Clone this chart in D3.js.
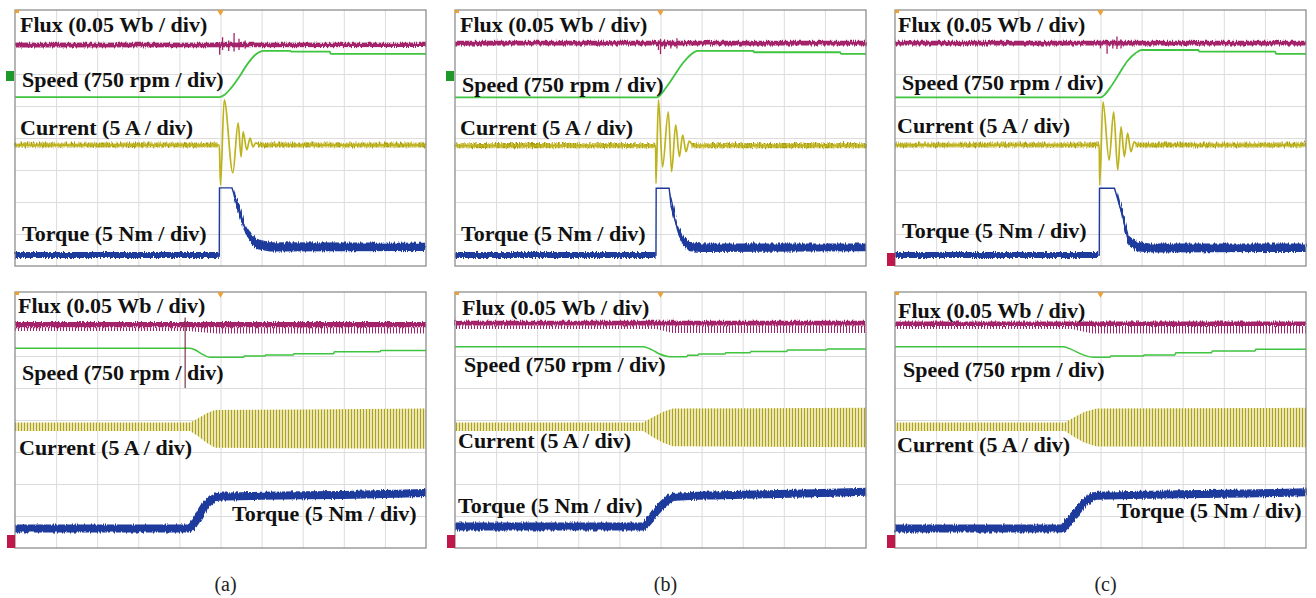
<html>

<head>
  <title>Flux, speed, current and torque traces</title>
  <script type="text/javascript" src="https://cdn.jsdelivr.net/npm/d3@7"></script>
  <style>
    body { margin: 0; background: #fff; }
  </style>
</head>

<body>
  <script type="text/javascript">
    // Signal names and sub-figure labels
    const traceNames = ["Flux (0.05 Wb / div)", "Speed (750 rpm / div)", "Current (5 A / div)", "Torque (5 Nm / div)"];
    const panelLabels = ["(a)", "(b)", "(c)"];

    // ---- Top row: speed step (x in div 0..10, y in div 0..8 from bottom)
    // flux band [x, low, high] and the spikes at the step [x, top, bottom]
    const stepFluxBand = [
      [[0, 6.83, 6.98], [10, 6.84, 6.98]],
      [[0, 6.89, 7.04], [10, 6.89, 7.04]],
      [[0, 6.89, 7.04], [10, 6.89, 7.04]]
    ];
    const stepFluxSpikes = [
      [[4.98, 7.0, 6.6], [5.05, 7.15, 6.75], [5.2, 7.05, 6.72], [5.33, 7.28, 6.7], [5.45, 7.1, 6.75], [5.6, 7.05, 6.8]],
      [[4.95, 7.05, 6.75], [5.0, 7.1, 6.62], [5.1, 7.08, 6.78], [5.25, 7.05, 6.8], [5.4, 7.12, 6.8]],
      [[5.0, 7.05, 6.8], [5.16, 7.05, 6.63], [5.3, 7.08, 6.8], [5.4, 7.17, 6.78], [5.5, 7.08, 6.8]]
    ];
    const stepSpeed = [
      [[0, 5.28], [4.98, 5.28], [5.1, 5.35], [5.25, 5.55], [5.45, 5.9], [5.65, 6.3], [5.85, 6.6], [6.05, 6.72], [6.7, 6.72], [6.72, 6.7], [7.66, 6.7], [7.68, 6.63], [10, 6.63]],
      [[0, 5.27], [4.92, 5.27], [5.0, 5.35], [5.15, 5.6], [5.35, 5.98], [5.55, 6.35], [5.75, 6.62], [5.9, 6.72], [7.26, 6.72], [7.28, 6.68], [9.37, 6.68], [9.39, 6.63], [10, 6.63]],
      [[0, 5.27], [5.0, 5.27], [5.1, 5.35], [5.25, 5.6], [5.45, 6.0], [5.65, 6.4], [5.85, 6.65], [6.0, 6.75], [7.38, 6.75], [7.4, 6.7], [9.25, 6.7], [9.27, 6.63], [10, 6.63]]
    ];
    // current: baseline plus the ringing extrema after the step
    const stepCurrent = [
      [[0, 3.78], [4.97, 3.78], [5.0, 2.53], [5.09, 5.19], [5.30, 2.91], [5.43, 4.47], [5.50, 3.41], [5.55, 4.19], [5.64, 3.63], [5.72, 4.0], [5.79, 3.72], [5.86, 3.85], [5.95, 3.78], [10, 3.78]],
      [[0, 3.76], [4.88, 3.76], [4.89, 2.58], [4.95, 5.19], [5.05, 3.1], [5.19, 4.82], [5.27, 2.95], [5.37, 4.41], [5.46, 3.42], [5.54, 4.09], [5.62, 3.57], [5.7, 3.9], [5.8, 3.76], [10, 3.76]],
      [[0, 3.78], [4.97, 3.78], [4.98, 2.53], [5.06, 5.13], [5.21, 3.31], [5.32, 4.82], [5.42, 3.0], [5.5, 4.35], [5.58, 3.42], [5.66, 4.15], [5.74, 3.57], [5.82, 3.88], [5.9, 3.78], [10, 3.78]]
    ];
    // current ripple band [x, low, high], null = gap
    const stepCurrentRipple = [
      [[0, 3.7, 3.86], [4.96, 3.7, 3.86], null, [5.9, 3.7, 3.86], [10, 3.7, 3.86]],
      [[0, 3.68, 3.84], [4.87, 3.68, 3.84], null, [5.75, 3.68, 3.84], [10, 3.68, 3.84]],
      [[0, 3.7, 3.86], [4.96, 3.7, 3.86], null, [5.85, 3.7, 3.86], [10, 3.7, 3.86]]
    ];
    const stepTorque = [
      [[0, 0.34], [4.97, 0.34], [4.975, 2.44], [5.28, 2.44], [5.45, 1.75], [5.6, 1.15], [5.75, 0.85], [5.9, 0.68], [6.2, 0.58], [10, 0.6]],
      [[0, 0.34], [4.89, 0.34], [4.895, 2.43], [5.21, 2.43], [5.26, 1.85], [5.42, 1.13], [5.54, 0.81], [5.7, 0.6], [6.0, 0.56], [10, 0.58]],
      [[0, 0.34], [4.97, 0.34], [4.975, 2.43], [5.34, 2.43], [5.52, 1.65], [5.68, 0.81], [5.88, 0.6], [6.2, 0.55], [10, 0.57]]
    ];
    const stepTorqueNoise = [
      [[0, 0.25, 0.44], [4.96, 0.25, 0.44], null, [5.32, 2.2, 2.42], [5.45, 1.62, 1.88], [5.6, 1.02, 1.28], [5.75, 0.72, 0.98], [5.9, 0.52, 0.84], [6.2, 0.45, 0.74], [10, 0.47, 0.73]],
      [[0, 0.25, 0.44], [4.88, 0.25, 0.44], null, [5.24, 2.0, 2.3], [5.42, 1.0, 1.26], [5.54, 0.68, 0.95], [5.7, 0.46, 0.76], [6.0, 0.44, 0.7], [10, 0.46, 0.7]],
      [[0, 0.25, 0.44], [4.96, 0.25, 0.44], null, [5.4, 2.2, 2.42], [5.52, 1.52, 1.78], [5.68, 0.68, 0.95], [5.88, 0.46, 0.76], [6.2, 0.42, 0.7], [10, 0.44, 0.7]]
    ];

    // ---- Bottom row: load step
    const loadFluxBand = [
      [[0, 6.9, 7.06], [10, 6.9, 7.06]],
      [[0, 6.95, 7.1], [10, 6.95, 7.1]],
      [[0, 6.94, 7.08], [10, 6.94, 7.08]]
    ];
    const loadFluxSpikeBand = [
      [[0, 6.78, 6.9], [4.2, 6.78, 6.9], [4.9, 6.7, 6.9], [10, 6.7, 6.9]],
      [[0, 6.84, 6.95], [4.9, 6.84, 6.95], [5.3, 6.72, 6.95], [10, 6.72, 6.95]],
      [[0, 6.84, 6.94], [4.3, 6.84, 6.94], [4.8, 6.7, 6.94], [10, 6.7, 6.94]]
    ];
    const loadSpeed = [
      [[0, 6.24], [4.26, 6.24], [4.4, 6.18], [4.55, 6.06], [4.74, 5.96], [5.56, 5.96], [5.58, 6.0], [6.08, 6.0], [6.1, 6.03], [6.77, 6.03], [6.79, 6.07], [7.75, 6.07], [7.77, 6.13], [8.88, 6.13], [8.9, 6.17], [10, 6.17]],
      [[0, 6.29], [4.58, 6.29], [4.75, 6.22], [4.95, 6.08], [5.23, 5.98], [5.64, 5.98], [5.66, 6.02], [5.91, 6.02], [5.93, 6.06], [6.57, 6.06], [6.59, 6.1], [7.18, 6.1], [7.2, 6.14], [8.07, 6.14], [8.09, 6.19], [9.04, 6.19], [9.06, 6.22], [10, 6.22]],
      [[0, 6.29], [4.1, 6.29], [4.3, 6.2], [4.55, 6.05], [4.83, 5.96], [5.23, 5.96], [5.25, 6.0], [6.04, 6.0], [6.06, 6.03], [6.81, 6.03], [6.83, 6.1], [7.7, 6.1], [7.72, 6.16], [8.76, 6.16], [8.78, 6.21], [10, 6.21]]
    ];
    const loadCurrentBand = [
      [[0, 3.66, 3.92], [4.26, 3.66, 3.92], [4.45, 3.5, 4.05], [4.65, 3.3, 4.2], [4.87, 3.13, 4.31], [7, 3.12, 4.33], [10, 3.1, 4.36]],
      [[0, 3.66, 3.92], [4.58, 3.66, 3.92], [4.8, 3.48, 4.08], [5.05, 3.3, 4.25], [5.3, 3.18, 4.36], [10, 3.15, 4.38]],
      [[0, 3.66, 3.92], [4.14, 3.66, 3.92], [4.35, 3.48, 4.08], [4.6, 3.3, 4.25], [4.91, 3.17, 4.36], [10, 3.15, 4.38]]
    ];
    const loadTorque = [
      [[0, 0.61], [4.22, 0.61], [4.35, 0.75], [4.5, 1.05], [4.65, 1.35], [4.8, 1.52], [4.95, 1.6], [6, 1.63], [8, 1.66], [10, 1.72]],
      [[0, 0.67], [4.56, 0.67], [4.7, 0.82], [4.9, 1.15], [5.1, 1.42], [5.35, 1.6], [6.5, 1.65], [8.5, 1.7], [10, 1.76]],
      [[0, 0.61], [4.06, 0.61], [4.2, 0.78], [4.4, 1.1], [4.6, 1.4], [4.91, 1.63], [6.5, 1.67], [8.5, 1.7], [10, 1.74]]
    ];
    // cursor line seen in panel (a) bottom [x, top, bottom]
    const loadCursor = [[4.14, 7.2, 5.0]];

    // ---- Layout
    const W = 1316, H = 598;
    const panelW = 411, panelH = 256;
    const colX = [15, 455, 895];
    const rowY = [10, 292];
    // label anchor points inside each panel (px from panel corner)
    const labelPos = [
      [[[5, 22], [7, 77], [5, 125], [7, 231]], [[5, 22], [7, 82], [5, 125], [6, 231]], [[3, 22], [7, 80], [2, 123], [7, 228]]],
      [[[3, 21], [7, 88], [4, 163], [217, 229]], [[7, 23], [9, 80], [3, 156], [3, 221]], [[3, 26], [8, 85], [2, 160], [222, 226]]]
    ];
    const serif = "'Liberation Serif', 'Times New Roman', serif";

    const colFlux = "#a3226b", colSpeed = "#3ec43e", colCur = "#bdb31c", colTorque = "#1f3a9c";

    const svg = d3.select("body").append("svg")
      .attr("width", W).attr("height", H);

    // Patterns and filter for scope-like texture
    const defs = svg.append("defs");
    function stripes(id, bg, fg, w, lw) {
      const p = defs.append("pattern").attr("id", id)
        .attr("patternUnits", "userSpaceOnUse").attr("width", w).attr("height", 4);
      if (bg) p.append("rect").attr("width", w).attr("height", 4).attr("fill", bg);
      p.append("rect").attr("width", lw).attr("height", 4).attr("fill", fg);
    }
    stripes("curStripe", "#ebe6b4", "#aca41c", 3, 1);
    stripes("ripple", "#d8d070", "#a89e10", 3, 1.4);
    stripes("fluxSpike", null, "#a3226b", 3, 1);
    const f = defs.append("filter").attr("id", "noise")
      .attr("x", "-2%").attr("y", "-50%").attr("width", "104%").attr("height", "200%");
    f.append("feTurbulence").attr("type", "fractalNoise")
      .attr("baseFrequency", "0.9 0.08").attr("numOctaves", 1).attr("seed", 3).attr("result", "t");
    f.append("feDisplacementMap").attr("in", "SourceGraphic").attr("in2", "t")
      .attr("scale", 5).attr("xChannelSelector", "R").attr("yChannelSelector", "G");

    function drawPanel(row, col) {
      const x0 = colX[col], y0 = rowY[row];
      const x = d3.scaleLinear().domain([0, 10]).range([x0, x0 + panelW]);
      const y = d3.scaleLinear().domain([0, 8]).range([y0 + panelH, y0]);
      const g = svg.append("g");

      g.append("rect").attr("x", x0).attr("y", y0).attr("width", panelW).attr("height", panelH)
        .attr("fill", "#fff");

      // grid via axes
      const gx = g.append("g").attr("transform", "translate(0," + (y0 + panelH) + ")")
        .call(d3.axisBottom(x).tickValues(d3.range(1, 10)).tickSize(-panelH).tickFormat(""));
      const gy = g.append("g").attr("transform", "translate(" + x0 + ",0)")
        .call(d3.axisLeft(y).tickValues(d3.range(1, 8)).tickSize(-panelW).tickFormat(""));
      [gx, gy].forEach(a => {
        a.select(".domain").remove();
        a.selectAll("line").attr("stroke", "#dcdcdc").attr("stroke-width", 1);
      });

      const line = d3.line().x(d => x(d[0])).y(d => y(d[1]));
      const band = d3.area().defined(d => d).x(d => x(d[0])).y0(d => y(d[1])).y1(d => y(d[2]));

      if (row === 0) {
        g.append("path").attr("d", band(stepFluxBand[col])).attr("fill", colFlux).attr("filter", "url(#noise)");
        g.selectAll(".spk").data(stepFluxSpikes[col]).enter().append("line")
          .attr("x1", d => x(d[0])).attr("x2", d => x(d[0]))
          .attr("y1", d => y(d[1])).attr("y2", d => y(d[2]))
          .attr("stroke", colFlux).attr("stroke-width", 1.3);
        g.append("path").attr("d", line.curve(d3.curveMonotoneX)(stepSpeed[col]))
          .attr("fill", "none").attr("stroke", colSpeed).attr("stroke-width", 1.8);
        g.append("path").attr("d", band(stepCurrentRipple[col])).attr("fill", "url(#ripple)").attr("filter", "url(#noise)");
        g.append("path").attr("d", line.curve(d3.curveMonotoneX)(stepCurrent[col]))
          .attr("fill", "none").attr("stroke", colCur).attr("stroke-width", 1.7);
        g.append("path").attr("d", line.curve(d3.curveLinear)(stepTorque[col]))
          .attr("fill", "none").attr("stroke", colTorque).attr("stroke-width", 1.4);
        g.append("path").attr("d", band(stepTorqueNoise[col])).attr("fill", colTorque).attr("filter", "url(#noise)");
      } else {
        g.append("path").attr("d", band(loadFluxSpikeBand[col])).attr("fill", "url(#fluxSpike)");
        g.append("path").attr("d", band(loadFluxBand[col])).attr("fill", colFlux).attr("filter", "url(#noise)");
        g.append("path").attr("d", line.curve(d3.curveMonotoneX)(loadSpeed[col]))
          .attr("fill", "none").attr("stroke", colSpeed).attr("stroke-width", 1.5);
        g.append("path").attr("d", band(loadCurrentBand[col])).attr("fill", "url(#curStripe)");
        g.append("path").attr("d", line.curve(d3.curveMonotoneX)(loadTorque[col]))
          .attr("fill", "none").attr("stroke", colTorque).attr("stroke-width", 8)
          .attr("filter", "url(#noise)");
        if (col === 0) {
          g.selectAll(".cur").data(loadCursor).enter().append("line")
            .attr("x1", d => x(d[0])).attr("x2", d => x(d[0]))
            .attr("y1", d => y(d[1])).attr("y2", d => y(d[2]))
            .attr("stroke", "#7b3848").attr("stroke-width", 1.2);
        }
      }

      // frame
      g.append("rect").attr("x", x0).attr("y", y0).attr("width", panelW).attr("height", panelH)
        .attr("fill", "none").attr("stroke", "#8e8e8e").attr("stroke-width", 1.3);
      // trigger marks
      g.append("path").attr("d", d3.symbol(d3.symbolTriangle, 18)())
        .attr("transform", "translate(" + x(5) + "," + (y0 + 2) + ") rotate(180)").attr("fill", "#f0a030");
      g.append("rect").attr("x", x0).attr("y", y0).attr("width", 4).attr("height", 3).attr("fill", "#f0a030");
      // channel markers on the left edge
      if (row === 1 || col === 2) {
        g.append("rect").attr("x", x0 - 8).attr("y", y0 + panelH - 13).attr("width", 8).attr("height", 13).attr("fill", "#c0184a");
      }
      if (row === 0 && col < 2) {
        g.append("rect").attr("x", x0 - 9).attr("y", y0 + 61).attr("width", 8).attr("height", 10).attr("fill", "#1f9a2a");
      }

      // labels
      labelPos[row][col].forEach((p, i) => {
        g.append("text").attr("x", x0 + p[0]).attr("y", y0 + p[1])
          .attr("font-family", serif)
          .attr("font-size", 22).attr("font-weight", "bold").attr("fill", "#111")
          .text(traceNames[i]);
      });
    }

    [0, 1].forEach(r => [0, 1, 2].forEach(c => drawPanel(r, c)));

    // sub-figure labels
    svg.selectAll(".sub").data(panelLabels).enter().append("text")
      .attr("x", (d, i) => colX[i] + panelW / 2 + 5)
      .attr("y", 591)
      .attr("font-family", serif)
      .attr("text-anchor", "middle").attr("font-size", 20).attr("fill", "#222")
      .text(d => d);
  </script>
</body>

</html>
